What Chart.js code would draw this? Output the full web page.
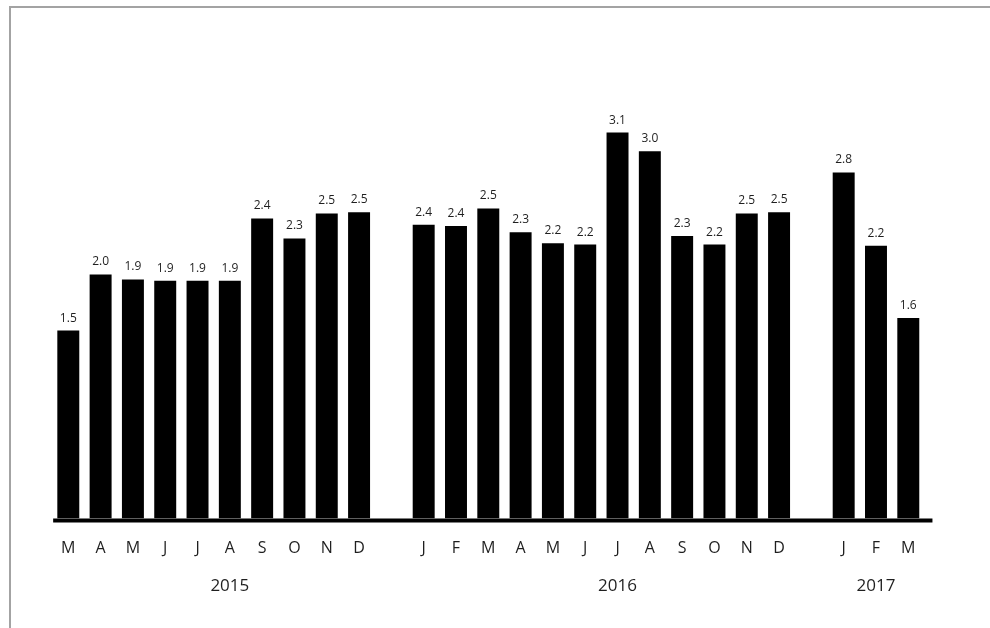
<!DOCTYPE html>
<html>
<head>
<meta charset="utf-8">
<script src="https://cdn.jsdelivr.net/npm/chart.js@4/dist/chart.umd.min.js"></script>
<style>
  html, body { margin: 0; padding: 0; background: #fff; overflow: hidden; }
  #frame { position: absolute; left: 9px; top: 6px; width: 1000px; height: 700px;
           border-top: 2px solid #a3a3a3; border-left: 2px solid #a3a3a3; }
  canvas { position: absolute; left: 0; top: 0; }
</style>
</head>
<body>
<div id="frame"></div>
<canvas id="inflatie" width="990" height="628"></canvas>
<script>
// maandlabels, lege plek tussen de jaren
var months = ['M', 'A', 'M', 'J', 'J', 'A', 'S', 'O', 'N', 'D', '',
              'J', 'F', 'M', 'A', 'M', 'J', 'J', 'A', 'S', 'O', 'N', 'D', '',
              'J', 'F', 'M'];
var rates = [1.51, 1.96, 1.92, 1.91, 1.91, 1.91, 2.41, 2.25, 2.45, 2.46, null,
             2.36, 2.35, 2.49, 2.30, 2.21, 2.20, 3.10, 2.95, 2.27, 2.20, 2.45, 2.46, null,
             2.78, 2.19, 1.61];
var years = ['2015', '2016', '2017'];
var yearTicks = [5, 17, 25]; // onder welke maand het jaartal staat

var extras = {
    id: 'extras',
    afterDraw: function (chart) {
        var ctx = chart.ctx;
        var area = chart.chartArea;
        var xs = chart.scales.x;
        var base = chart.scales.y.getPixelForValue(0);
        ctx.save();
        // dikke basislijn
        ctx.fillStyle = '#000';
        ctx.fillRect(area.left + 1, base, area.right - area.left + 7, 4);
        // waarden boven de staven
        ctx.fillStyle = '#1f1f1f';
        ctx.font = '12px "Open Sans"';
        ctx.textAlign = 'center';
        ctx.textBaseline = 'alphabetic';
        chart.getDatasetMeta(0).data.forEach(function (bar, i) {
            if (rates[i] == null) return;
            ctx.fillText(rates[i].toFixed(1), bar.x, bar.y - 9);
        });
        // jaartallen
        ctx.font = '17px "Open Sans"';
        ctx.textBaseline = 'middle';
        years.forEach(function (y, i) {
            ctx.fillText(y, xs.getPixelForValue(yearTicks[i]), base + 68);
        });
        ctx.restore();
    }
};

var ctx = document.getElementById('inflatie');
var myChart = new Chart(ctx, {
    type: 'bar',
    data: {
        labels: months,
        datasets: [
            {
                label: 'inflatie',
                data: rates,
                backgroundColor: '#000',
                borderWidth: 0,
                barPercentage: 0.68,
                categoryPercentage: 1
            }
        ]
    },
    options: {
        responsive: false,
        animation: false,
        devicePixelRatio: 1,
        layout: { padding: { top: 20.5, left: 52.15, right: 65.55, bottom: 0 } },
        plugins: { legend: { display: false }, tooltip: { enabled: false } },
        scales: {
            x: {
                grid: { display: false, drawTicks: false },
                border: { display: false },
                ticks: {
                    autoSkip: false,
                    maxRotation: 0,
                    padding: 20,
                    color: '#1f1f1f',
                    font: { family: 'Open Sans', size: 16 }
                },
                afterFit: function (scale) { scale.height = 109.5; }
            },
            y: {
                display: false,
                min: 0,
                max: 4
            }
        }
    },
    plugins: [extras]
});
</script>
</body>
</html>
